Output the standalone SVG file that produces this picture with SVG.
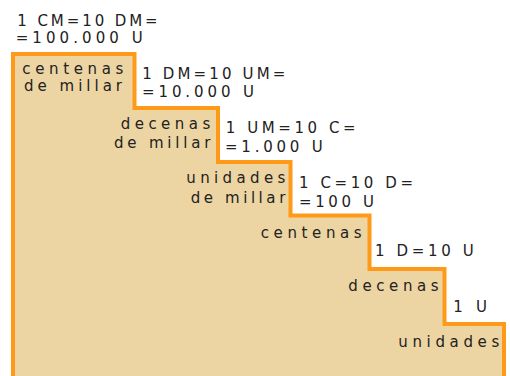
<svg xmlns="http://www.w3.org/2000/svg" width="510" height="376" viewBox="0 0 510 376">
  <style>
    .t { font-family: "DejaVu Sans", Verdana, sans-serif; font-size: 15px; fill: #222222; }
    .stairs { fill: #EDD5A3; stroke: #FF9A18; stroke-width: 4; stroke-linejoin: miter; }
  </style>
  <rect width="510" height="376" fill="#FFFFFF"/>
  <g id="staircase">
    <path class="stairs" d="M13,382 V54 H134.5 V108 H218 V162 H290.5 V215.5 H369.5 V269 H444.5 V324 H504 V382 Z"/>
  </g>
  <g id="labels">
    <text class="t" x="22.3" y="74" textLength="101" lengthAdjust="spacing">centenas</text>
    <text class="t" x="24" y="91" textLength="98" lengthAdjust="spacing">de millar</text>
    <text class="t" x="120.7" y="129" textLength="89.6" lengthAdjust="spacing">decenas</text>
    <text class="t" x="114" y="148.3" textLength="96.3" lengthAdjust="spacing">de millar</text>
    <text class="t" x="186.3" y="183.3" textLength="99" lengthAdjust="spacing">unidades</text>
    <text class="t" x="190.7" y="202.7" textLength="94.6" lengthAdjust="spacing">de millar</text>
    <text class="t" x="260.7" y="237.7" textLength="101" lengthAdjust="spacing">centenas</text>
    <text class="t" x="348.3" y="290.7" textLength="90.4" lengthAdjust="spacing">decenas</text>
    <text class="t" x="398.3" y="346.7" textLength="101" lengthAdjust="spacing">unidades</text>
  </g>
  <g id="equations">
    <text class="t" x="17.3" y="25.7" textLength="140.4" lengthAdjust="spacing">1 CM=10 DM=</text>
    <text class="t" x="15.7" y="43" textLength="127" lengthAdjust="spacing">=100.000 U</text>
    <text class="t" x="142.3" y="79" textLength="143" lengthAdjust="spacing">1 DM=10 UM=</text>
    <text class="t" x="142" y="97" textLength="112" lengthAdjust="spacing">=10.000 U</text>
    <text class="t" x="225.7" y="133.3" textLength="130" lengthAdjust="spacing">1 UM=10 C=</text>
    <text class="t" x="225" y="152.3" textLength="97.7" lengthAdjust="spacing">=1.000 U</text>
    <text class="t" x="299" y="188.3" textLength="114" lengthAdjust="spacing">1 C=10 D=</text>
    <text class="t" x="299" y="206.7" textLength="75" lengthAdjust="spacing">=100 U</text>
    <text class="t" x="375" y="255.7" textLength="98.7" lengthAdjust="spacing">1 D=10 U</text>
    <text class="t" x="453.3" y="312.3" textLength="33.7" lengthAdjust="spacing">1 U</text>
  </g>
</svg>
